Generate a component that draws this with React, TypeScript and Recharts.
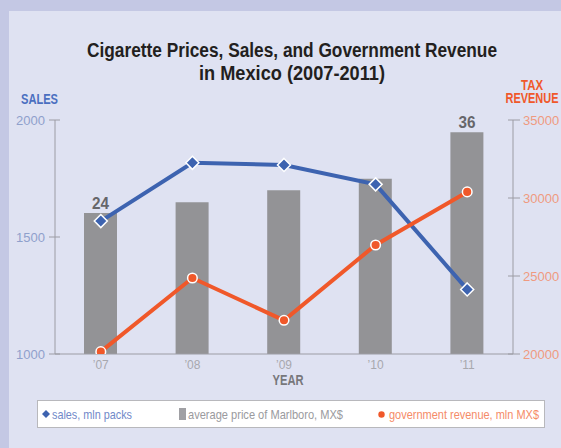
import React from 'react';
import {
  ComposedChart,
  XAxis,
  YAxis,
  Bar,
  Line,
  LabelList,
} from 'recharts';

const years = ['’07', '’08', '’09', '’10', '’11'];
const salesMlnPacks = [1568, 1817, 1808, 1725, 1276];
const marlboroPrice = [24, 25.6, 27.4, 29.1, 36];
const govRevenue = [20150, 24870, 22160, 26990, 30390];

const salesTicks = [1000, 1500, 2000];
const revenueTicks = [20000, 25000, 30000, 35000];

const data = years.map((year, i) => ({
  year,
  sales: salesMlnPacks[i],
  price: marlboroPrice[i],
  revenue: govRevenue[i],
}));

const SANS = "'Liberation Sans', Arial, sans-serif";

const BLUE = '#3d63b0';
const ORANGE = '#f0582a';
const BAR_GRAY = '#939396';
const AXIS_GRAY = '#9c9ca4';

// condensed look: squeeze a regular font to the measured width
const Squeezed = ({ w, children, ...rest }: any) => (
  <text fontFamily={SANS} textLength={w} lengthAdjust="spacingAndGlyphs" {...rest}>
    {children}
  </text>
);

const LeftTick = ({ x, y, payload }: any) => (
  <g>
    <line x1={x + 4} x2={x + 15} y1={y} y2={y} stroke={AXIS_GRAY} strokeWidth={1} />
    <text x={x} y={y} dy={5} textAnchor="end" fill="#8fa0cc" fontSize={13} fontFamily={SANS}>
      {payload.value}
    </text>
  </g>
);

const RightTick = ({ x, y, payload }: any) => (
  <g>
    <line x1={x - 15} x2={x - 3} y1={y} y2={y} stroke={AXIS_GRAY} strokeWidth={1} />
    <text x={x} y={y} dy={5} textAnchor="start" fill="#ef9a80" fontSize={13} fontFamily={SANS}>
      {payload.value}
    </text>
  </g>
);

const Diamond = ({ cx, cy, index }: any) => (
  <polygon
    key={`d-${index}`}
    points={`${cx},${cy - 6.5} ${cx + 6.5},${cy} ${cx},${cy + 6.5} ${cx - 6.5},${cy}`}
    fill={BLUE}
    stroke="#fff"
    strokeWidth={1.5}
  />
);

const Dot = ({ cx, cy, index }: any) => (
  <circle key={`c-${index}`} cx={cx} cy={cy} r={4.8} fill={ORANGE} stroke="#fff" strokeWidth={1.5} />
);

const PriceLabel = ({ x, y, width, value, index }: any) => {
  if (index !== 0 && index !== marlboroPrice.length - 1) return null;
  return (
    <Squeezed
      w={17}
      x={x + width / 2}
      y={y - 4}
      textAnchor="middle"
      fill="#66666a"
      fontSize={17}
      fontWeight="bold"
    >
      {value}
    </Squeezed>
  );
};

const App: React.FC = () => {
  return (
    <div style={{ position: 'absolute', left: 0, top: 0, width: 561, height: 448, background: '#c4c8e4', overflow: 'hidden' }}>
      <div style={{ position: 'absolute', left: 9, top: 11, right: 0, bottom: 0, background: '#dfe2f2' }} />
      <div style={{ position: 'absolute', left: 0, top: 0 }}>
        <ComposedChart width={561} height={448} data={data} margin={{ top: 120, right: 0, bottom: 0, left: 0 }}>
          <XAxis
            dataKey="year"
            height={94}
            axisLine={{ stroke: AXIS_GRAY }}
            tickLine={false}
            tickMargin={0}
            tick={{ fill: '#a8a8ae', fontSize: 12, fontFamily: SANS }}
          />
          <YAxis yAxisId="price" orientation="left" hide width={0} domain={[3.1, 37.8]} allowDataOverflow />
          <YAxis
            yAxisId="sales"
            orientation="left"
            width={55}
            domain={[1000, 2000]}
            ticks={salesTicks}
            allowDataOverflow
            axisLine={{ stroke: AXIS_GRAY }}
            tickLine={false}
            tickSize={6}
            tickMargin={4}
            tick={<LeftTick />}
          />
          <YAxis
            yAxisId="revenue"
            orientation="right"
            width={48}
            domain={[20000, 35000]}
            ticks={revenueTicks}
            allowDataOverflow
            axisLine={{ stroke: AXIS_GRAY }}
            tickLine={false}
            tickSize={6}
            tickMargin={4}
            tick={<RightTick />}
          />
          <Bar yAxisId="price" dataKey="price" barSize={33} fill={BAR_GRAY} isAnimationActive={false}>
            <LabelList dataKey="price" content={<PriceLabel />} />
          </Bar>
          <Line
            yAxisId="sales"
            dataKey="sales"
            type="linear"
            stroke={BLUE}
            strokeWidth={4}
            dot={<Diamond />}
            activeDot={false}
            isAnimationActive={false}
          />
          <Line
            yAxisId="revenue"
            dataKey="revenue"
            type="linear"
            stroke={ORANGE}
            strokeWidth={4}
            dot={<Dot />}
            activeDot={false}
            isAnimationActive={false}
          />
        </ComposedChart>
      </div>
      <svg width={561} height={448} style={{ position: 'absolute', left: 0, top: 0, pointerEvents: 'none' }}>
        <Squeezed w={410} x={292} y={57} textAnchor="middle" fill="#231f20" fontSize={20} fontWeight="bold">
          Cigarette Prices, Sales, and Government Revenue
        </Squeezed>
        <Squeezed w={186} x={292} y={80} textAnchor="middle" fill="#231f20" fontSize={20} fontWeight="bold">
          in Mexico (2007-2011)
        </Squeezed>
        <Squeezed w={37} x={21} y={104} fill="#4a6fc0" fontSize={14.5} fontWeight="bold">
          SALES
        </Squeezed>
        <Squeezed w={22} x={532} y={89.5} textAnchor="middle" fill={ORANGE} fontSize={14} fontWeight="bold">
          TAX
        </Squeezed>
        <Squeezed w={53} x={532} y={103} textAnchor="middle" fill={ORANGE} fontSize={14} fontWeight="bold">
          REVENUE
        </Squeezed>
        <Squeezed w={31} x={288} y={385} textAnchor="middle" fill="#77777b" fontSize={14.5} fontWeight="bold">
          YEAR
        </Squeezed>

        <g>
          <rect x={37.5} y={400.5} width={507} height={27} fill="#fff" stroke="#b8b8bc" strokeWidth={1} />
          <polygon points="46,410 50,414 46,418 42,414" fill={BLUE} />
          <Squeezed w={80} x={52} y={418.5} fill="#7189c9" fontSize={13}>
            sales, mln packs
          </Squeezed>
          <rect x={179} y={408} width={7} height={12} fill="#a0a0a4" />
          <Squeezed w={155} x={188} y={418.5} fill="#9a9a9e" fontSize={13}>
            average price of Marlboro, MX$
          </Squeezed>
          <circle cx={381.5} cy={414.5} r={3.2} fill={ORANGE} />
          <Squeezed w={150} x={389} y={418.5} fill="#f58b68" fontSize={13}>
            government revenue, mln MX$
          </Squeezed>
        </g>
      </svg>
    </div>
  );
};

export default App;
